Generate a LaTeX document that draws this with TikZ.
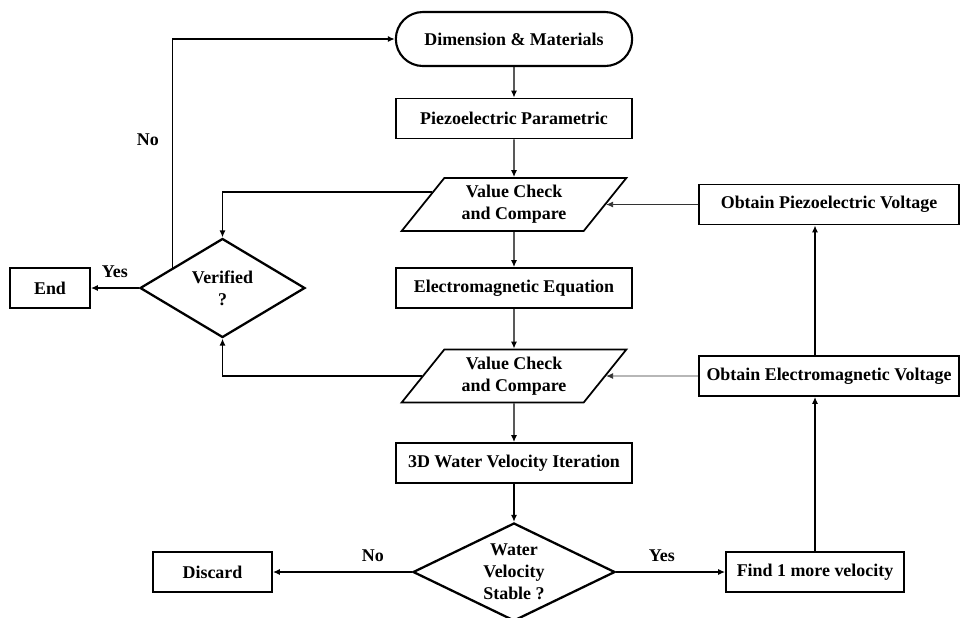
\documentclass[tikz,border=0pt]{standalone}
\usepackage{fontspec}
\setmainfont{Liberation Serif}
\usetikzlibrary{shapes.geometric,shapes.misc,positioning,arrows.meta,calc}

\tikzset{
  box/.style={draw, line width=1pt, rectangle, minimum height=0.8cm, inner sep=1pt, align=center},
  term/.style={draw, line width=1.2pt, rounded rectangle, minimum width=4.96cm, minimum height=1.08cm},
  check/.style={draw, line width=1pt, trapezium, trapezium left angle=50, trapezium right angle=130,
    trapezium stretches=true, minimum width=4.5cm, minimum height=1.06cm, inner sep=0pt, align=center},
  decision/.style={draw, line width=1.3pt, diamond, aspect=2, inner sep=0pt, align=center},
  line/.style={line width=0.8pt, -{Latex[length=4pt,width=3.5pt]}},
  thinline/.style={line width=0.5pt, black!80, -{Latex[length=4pt,width=3.5pt]}}
}

\begin{document}
\begin{tikzpicture}[on grid, font=\fontsize{10.2pt}{12.5pt}\selectfont\bfseries]
\useasboundingbox (0,0) rectangle (19.22,-12.34);
\node [term] (start) at (10.28,-0.78) {Dimension \& Materials};
\node [box, minimum width=4.72cm] (piezo) [below=1.59cm of start] {Piezoelectric Parametric};
\node [check] (vc1) [below=1.72cm of piezo] {Value Check\\and Compare};
\node [box, minimum width=4.72cm] (emeq) [below=1.67cm of vc1] {Electromagnetic Equation};
\node [check] (vc2) [below=1.76cm of emeq] {Value Check\\and Compare};
\node [box, minimum width=4.72cm] (water) [below=1.74cm of vc2] {3D Water Velocity Iteration};
\node [decision, minimum width=4.04cm, minimum height=1.96cm] (stable) [below=2.18cm of water] {Water\\Velocity\\Stable ?};
\node [box, minimum width=2.38cm] (discard) [left=6.03cm of stable] {Discard};
\node [box, minimum width=3.56cm] (find) [right=6.02cm of stable] {Find 1 more velocity};
\node [box, minimum width=5.2cm] (obtem) [right=6.3cm of vc2] {Obtain Electromagnetic Voltage};
\node [box, minimum width=5.2cm] (obtpz) [right=6.3cm of vc1] {Obtain Piezoelectric Voltage};
\node [decision, minimum width=3.3cm, minimum height=1.98cm] (verified) [left=5.83cm of emeq] {Verified\\?};
\node [box, minimum width=1.6cm] (end) [left=3.45cm of verified] {End};

\path [line]
(start) edge (piezo)
(piezo) edge (vc1)
(vc1) edge (emeq)
(emeq) edge (vc2)
(vc2) edge (water)
(water) edge (stable)
(stable) edge node [above=2pt, pos=0.28] {No} (discard)
edge node [above=2pt, pos=0.42] {Yes} (find)
(verified) edge node [above=2pt] {Yes} (end)
(find) edge (find.north |- obtem.south)
(obtem.north -| find.north) edge (find.north |- obtpz.south);
\path [thinline]
(obtpz) edge (vc1)
(obtem) edge (vc2);

% loops back to the verified check
\draw [line] ($(verified.west)!0.4!(verified.north)$) |- (start.west) node [pos=0.28, left=4pt] {No};
\draw [line] ($(vc1.left side)!0.45!(vc1.top left corner)$) -| (verified.north);
\draw [line] (vc2.left side) -| (verified.south);
\end{tikzpicture}
\end{document}
